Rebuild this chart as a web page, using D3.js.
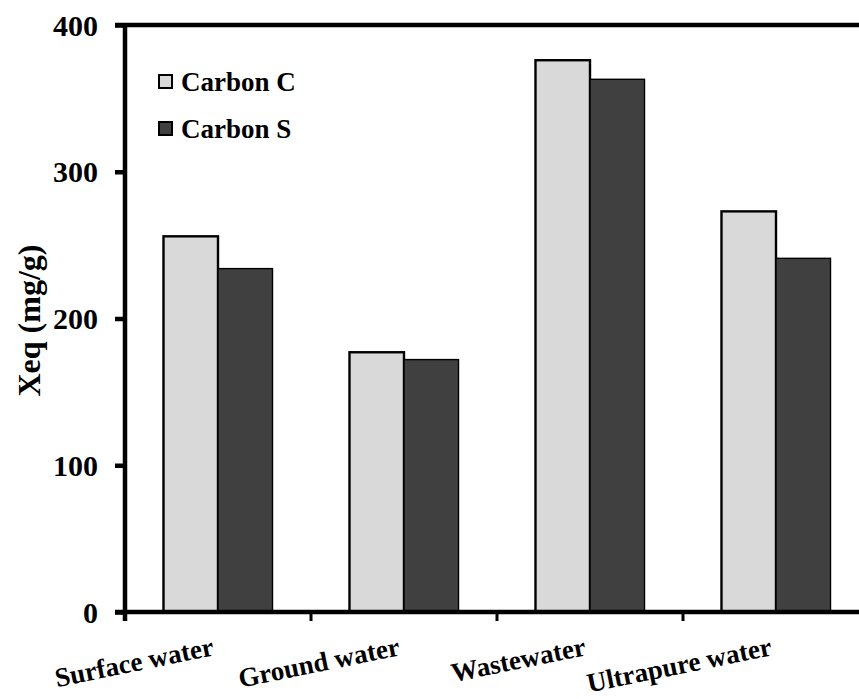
<!DOCTYPE html>
<html>
<head>
<meta charset="utf-8">
<script src="https://cdn.jsdelivr.net/npm/d3@7"></script>
<style>
  html, body { margin: 0; padding: 0; background: #fff; overflow: hidden; }
  svg { display: block; }
  text { font-family: "Liberation Serif", "Times New Roman", serif; font-weight: bold; fill: #000; }
</style>
</head>
<body>
<svg id="chart" width="859" height="699"></svg>
<script>
// Equilibrium adsorption capacity by water matrix
const categories = ["Surface water", "Ground water", "Wastewater", "Ultrapure water"];
const seriesNames = ["Carbon C", "Carbon S"];
const carbonC = [256, 177, 376, 273];
const carbonS = [234, 172, 363, 241];
const yTicks = [0, 100, 200, 300, 400];
const yTitle = "Xeq (mg/g)";

const fills = ["#d9d9d9", "#404040"];
const strokeW = [2.4, 1.4];

const svg = d3.select("#chart");
const plotLeft = 125, plotRight = 869, plotTop = 25, plotBottom = 612;

const x = d3.scaleBand().domain(categories).range([plotLeft, plotRight]).paddingInner(0).paddingOuter(0);
const x1 = d3.scaleBand().domain(seriesNames).range([0, x.bandwidth()]).paddingInner(0).paddingOuter(0.706);
const y = d3.scaleLinear().domain([0, 400]).range([plotBottom, plotTop]);

const rows = categories.map((c, i) => ({ cat: c, vals: [carbonC[i], carbonS[i]] }));

// bars
const g = svg.append("g");
rows.forEach(r => {
  r.vals.forEach((v, k) => {
    g.append("rect")
      .attr("x", x(r.cat) + x1(seriesNames[k]))
      .attr("y", y(v))
      .attr("width", x1.bandwidth())
      .attr("height", y(0) - y(v))
      .attr("fill", fills[k])
      .attr("stroke", "#000")
      .attr("stroke-width", strokeW[k]);
  });
});

// frame top line
svg.append("line")
  .attr("x1", plotLeft - 10).attr("x2", plotRight)
  .attr("y1", y(400)).attr("y2", y(400))
  .attr("stroke", "#000").attr("stroke-width", 4.5);

// y axis
const yAxis = svg.append("g")
  .attr("transform", `translate(${plotLeft},0)`)
  .call(d3.axisLeft(y).tickValues(yTicks).tickSize(10).tickPadding(17).tickFormat(d3.format("d")));
yAxis.select(".domain").attr("stroke", "#000").attr("stroke-width", 4.5)
  .attr("d", `M0,${plotBottom + 9}V${plotTop}`);
yAxis.selectAll(".tick line").attr("stroke", "#000").attr("stroke-width", 4.5);
yAxis.selectAll(".tick text")
  .style("font-family", "'Liberation Serif', serif")
  .style("font-weight", "bold")
  .style("font-size", "30px")
  .attr("dy", "0.34em");

// x axis line
svg.append("line")
  .attr("x1", plotLeft - 10).attr("x2", plotRight)
  .attr("y1", plotBottom).attr("y2", plotBottom)
  .attr("stroke", "#000").attr("stroke-width", 4.5);

// x ticks at category boundaries
const bounds = categories.map(c => x(c)).concat([x(categories[categories.length - 1]) + x.bandwidth()]);
svg.selectAll(".xtick").data(bounds).enter().append("line")
  .attr("x1", d => d).attr("x2", d => d)
  .attr("y1", plotBottom).attr("y2", plotBottom + 9)
  .attr("stroke", "#000").attr("stroke-width", 3);

// category labels, slanted
svg.selectAll(".xlab").data(categories).enter().append("text")
  .attr("transform", d => `translate(${x(d) + x.bandwidth() / 2 - 3},${plotBottom + 43}) rotate(-11.5)`)
  .attr("text-anchor", "end")
  .style("font-size", "27px")
  .text(d => d);

// y title
svg.append("text")
  .attr("transform", `translate(40,${(plotTop + plotBottom) / 2 + 2}) rotate(-90)`)
  .attr("text-anchor", "middle")
  .style("font-size", "32px")
  .text(yTitle);

// legend
const leg = svg.append("g");
seriesNames.forEach((s, k) => {
  const ly = 75 + k * 47;
  leg.append("rect")
    .attr("x", 159).attr("y", ly).attr("width", 13).attr("height", 13)
    .attr("fill", fills[k]).attr("stroke", "#000").attr("stroke-width", 2);
  leg.append("text")
    .attr("x", 181).attr("y", ly + 16)
    .style("font-size", "27px")
    .text(s);
});
</script>
</body>
</html>
